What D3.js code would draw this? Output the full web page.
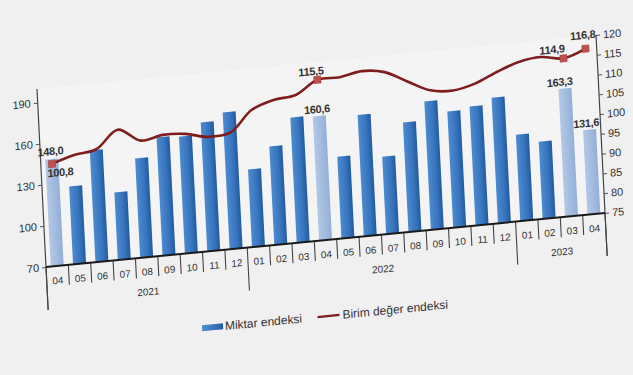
<!DOCTYPE html>
<html>
<head>
<meta charset="utf-8">
<script src="https://cdn.jsdelivr.net/npm/d3@7"></script>
<style>
  html, body { margin: 0; padding: 0; background: #f0f0f0; }
  svg { display: block; }
  text { font-family: "Liberation Sans", Arial, sans-serif; fill: #333; }
</style>
</head>
<body>
<svg id="chart" width="633" height="375"></svg>
<script>
// ---------------- data ----------------
const months = ["04","05","06","07","08","09","10","11","12",
                "01","02","03","04","05","06","07","08","09","10","11","12",
                "01","02","03","04"];
const yearLabels = ["2021", "2022", "2023"];
const yearCounts = [9, 12, 4];
const miktar = [148.0,126.8,151.6,119.3,142.6,156.3,155.4,164.1,169.9,
                126.7,141.9,161.4,160.6,129.7,158.6,126.6,150.0,163.7,154.8,156.9,161.8,
                133.2,126.5,163.3,131.6];
const birim  = [100.8,102.5,103.4,107.8,104.5,105.4,105.1,103.8,104.3,
                109.5,111.5,112.2,115.5,115.6,116.6,115.8,112.9,110.1,109.5,110.7,113.1,
                115.1,115.8,114.9,116.8];
const highlighted = [0, 12, 23, 24];
const leftTicks = [70, 100, 130, 160, 190];
const rightTicks = [75, 80, 85, 90, 95, 100, 105, 110, 115, 120];
const barLabels = ["148,0", "160,6", "163,3", "131,6"];
const lineLabels = ["100,8", "115,5", "114,9", "116,8"];
const seriesNames = ["Miktar endeksi", "Birim değer endeksi"];

// ---------------- layout ----------------
const W = 561.6, H = 178.2;
const svg = d3.select("#chart");
const defs = svg.append("defs");
const grad = defs.append("linearGradient").attr("id", "barGrad")
  .attr("x1", "0").attr("x2", "1").attr("y1", "0").attr("y2", "0");
grad.append("stop").attr("offset", "0").attr("stop-color", "#4d8ad0");
grad.append("stop").attr("offset", "0.6").attr("stop-color", "#3674bd");
grad.append("stop").attr("offset", "1").attr("stop-color", "#235a9e");
const grad2 = defs.append("linearGradient").attr("id", "barGradL")
  .attr("x1", "0").attr("x2", "1").attr("y1", "0").attr("y2", "0");
grad2.append("stop").attr("offset", "0").attr("stop-color", "#b3c8e6");
grad2.append("stop").attr("offset", "1").attr("stop-color", "#93afd8");

// skewed / rotated frame as in the photographed chart
const g = svg.append("g")
  .attr("transform", "matrix(0.9954,-0.0962,0.0505,0.9989,37,89)");

const x = d3.scaleBand().domain(d3.range(months.length)).range([0, W]).paddingInner(0.42).paddingOuter(0.21);
const yL = d3.scaleLinear().domain([70, 200]).range([H, 0]);
const yR = d3.scaleLinear().domain([75, 120]).range([H, 0]);
const step = x.step();

// plot background (very subtle)
g.append("rect").attr("x", 0).attr("y", 0).attr("width", W).attr("height", H).attr("fill", "#f4f4f4");

// bars
g.selectAll("rect.bar").data(miktar).join("rect")
  .attr("class", "bar")
  .attr("x", (d, i) => x(i))
  .attr("width", x.bandwidth())
  .attr("y", d => yL(d))
  .attr("height", d => H - yL(d))
  .attr("fill", (d, i) => highlighted.includes(i) ? "url(#barGradL)" : "url(#barGrad)");

// left axis
const axL = g.append("g").call(d3.axisLeft(yL).tickValues(leftTicks).tickSize(4).tickPadding(3));
axL.select(".domain").remove();
axL.selectAll("line").attr("stroke", "#555");
axL.selectAll("text").style("font-size", "11px").attr("fill", "#333");
g.append("line").attr("x1", 0).attr("x2", 0).attr("y1", 0).attr("y2", H + 43).attr("stroke", "#444").attr("stroke-width", 1.2);

// right axis
const axR = g.append("g").attr("transform", `translate(${W},0)`)
  .call(d3.axisRight(yR).tickValues(rightTicks).tickSize(4).tickPadding(3));
axR.select(".domain").remove();
axR.selectAll("line").attr("stroke", "#555");
axR.selectAll("text").style("font-size", "11px").attr("fill", "#333");
g.append("line").attr("x1", W).attr("x2", W).attr("y1", 0).attr("y2", H + 43).attr("stroke", "#444").attr("stroke-width", 1.2);

// x axis: category cells
const bounds = d3.range(months.length + 1);
const yearBounds = [0];
yearCounts.forEach((c, i) => yearBounds.push(yearBounds[i] + c));
g.selectAll("line.sep").data(bounds).join("line")
  .attr("class", "sep")
  .attr("x1", d => d * step).attr("x2", d => d * step)
  .attr("y1", H).attr("y2", d => yearBounds.includes(d) ? H + 43 : H + 20)
  .attr("stroke", "#444").attr("stroke-width", 1.1);
g.append("line").attr("x1", 0).attr("x2", W).attr("y1", H).attr("y2", H).attr("stroke", "#1a1a1a").attr("stroke-width", 2);

g.selectAll("text.cat").data(months).join("text")
  .attr("class", "cat")
  .attr("x", (d, i) => x(i) + x.bandwidth() / 2)
  .attr("y", H + 18)
  .attr("text-anchor", "middle")
  .style("font-size", "10px")
  .text(d => d);

g.selectAll("text.year").data(yearLabels).join("text")
  .attr("class", "year")
  .attr("x", (d, i) => (yearBounds[i] + yearBounds[i + 1]) / 2 * step)
  .attr("y", H + 38)
  .attr("text-anchor", "middle")
  .style("font-size", "10px")
  .text(d => d);

// line
const line = d3.line()
  .x((d, i) => x(i) + x.bandwidth() / 2)
  .y(d => yR(d))
  .curve(d3.curveCatmullRom.alpha(0.5));
g.append("path").datum(birim).attr("d", line)
  .attr("fill", "none").attr("stroke", "#7e1c1e").attr("stroke-width", 2.6);

// markers
g.selectAll("rect.mk").data(highlighted).join("rect")
  .attr("class", "mk")
  .attr("x", i => x(i) + x.bandwidth() / 2 - 3.5)
  .attr("y", i => yR(birim[i]) - 3.5)
  .attr("width", 7).attr("height", 7)
  .attr("fill", "#c0504d").attr("stroke", "#a33c3a").attr("stroke-width", 0.6);

// bar labels
const barOff = [[-1, -4], [-2, -3], [-5, -3], [-3, -3]];
g.selectAll("text.bl").data(highlighted).join("text")
  .attr("class", "bl")
  .attr("x", (i, k) => x(i) + x.bandwidth() / 2 + barOff[k][0])
  .attr("y", (i, k) => yL(miktar[i]) + barOff[k][1])
  .attr("text-anchor", "middle")
  .style("font-size", "11px").style("font-weight", "bold").style("letter-spacing", "-0.3px")
  .attr("fill", "#2a2a2a")
  .text((i, k) => barLabels[k]);

// line labels
const lineOff = [[8, 13], [-6, -5], [-11, -6], [-2, -10]];
g.selectAll("text.ll").data(highlighted).join("text")
  .attr("class", "ll")
  .attr("x", (i, k) => x(i) + x.bandwidth() / 2 + lineOff[k][0])
  .attr("y", (i, k) => yR(birim[i]) + lineOff[k][1])
  .attr("text-anchor", "middle")
  .style("font-size", "11px").style("font-weight", "bold").style("letter-spacing", "-0.3px")
  .attr("fill", "#2a2a2a")
  .text((i, k) => lineLabels[k]);

// legend
const lg = g.append("g").attr("transform", `translate(0,${H + 76})`);
lg.append("rect").attr("x", 153).attr("y", -3).attr("width", 21).attr("height", 6).attr("fill", "url(#barGrad)");
lg.append("text").attr("x", 176).attr("y", 4).style("font-size", "12px").text(seriesNames[0]);
lg.append("line").attr("x1", 269).attr("x2", 291).attr("y1", 0).attr("y2", 0).attr("stroke", "#7e1c1e").attr("stroke-width", 2.2);
lg.append("text").attr("x", 294).attr("y", 4).style("font-size", "12px").text(seriesNames[1]);
</script>
</body>
</html>
